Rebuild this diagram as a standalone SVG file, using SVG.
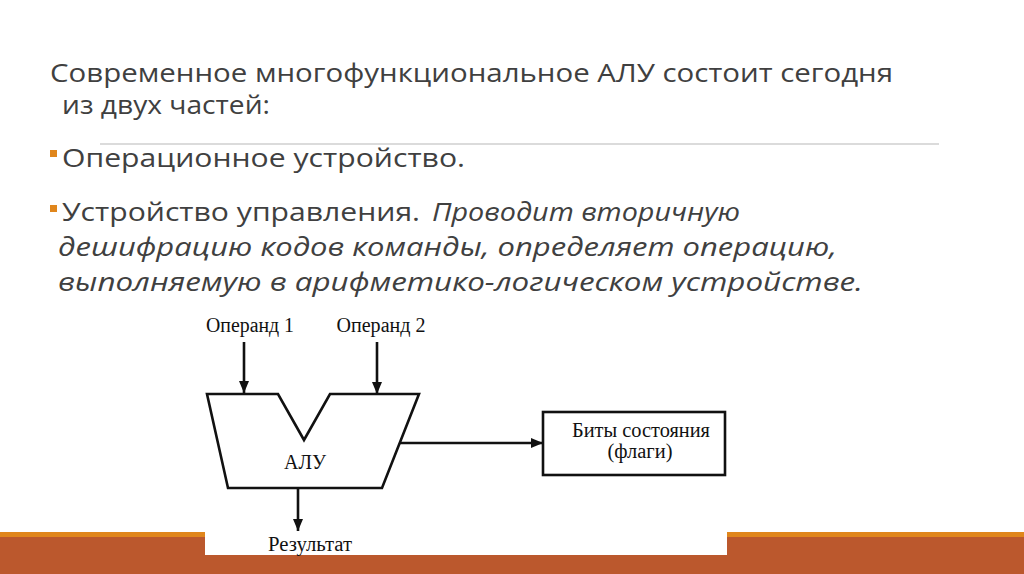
<svg xmlns="http://www.w3.org/2000/svg" width="1024" height="574" viewBox="0 0 1024 574">
  <style>
    .slide { font-family: "Open Sans", "Noto Sans", "DejaVu Sans", sans-serif; fill: #404040; font-size: 26px; }
    .it { font-style: italic; }
    .lbl { font-family: "Liberation Serif", "DejaVu Serif", serif; fill: #111; font-size: 20px; }
    .shape { fill: #fff; stroke: #111; stroke-width: 2.6; stroke-linejoin: miter; }
    .conn { stroke: #111; stroke-width: 2.6; fill: none; }
  </style>
  <defs>
    <marker id="arrow" viewBox="0 0 12 10" refX="12" refY="5" markerWidth="12" markerHeight="10" markerUnits="userSpaceOnUse" orient="auto">
      <path d="M0,0 L12,5 L0,10 Z" fill="#111"/>
    </marker>
  </defs>
  <rect x="0" y="0" width="1024" height="574" fill="#fff"/>

  <!-- slide text -->
  <g id="title">
    <text class="slide" x="50" y="82" textLength="843" lengthAdjust="spacingAndGlyphs">Современное многофункциональное АЛУ состоит сегодня</text>
    <text class="slide" x="62" y="114" textLength="208" lengthAdjust="spacingAndGlyphs">из двух частей:</text>
  </g>
  <line x1="100" y1="144" x2="939" y2="144" stroke="#cfcfcf" stroke-width="1.5"/>
  <g id="bullet1">
    <rect x="50" y="150" width="7" height="7" fill="#E0861C"/>
    <text class="slide" x="62" y="167" textLength="403" lengthAdjust="spacingAndGlyphs">Операционное устройство.</text>
  </g>
  <g id="bullet2">
    <rect x="50" y="205" width="7" height="7" fill="#E0861C"/>
    <text class="slide" x="62" y="221" textLength="358" lengthAdjust="spacingAndGlyphs">Устройство управления.</text>
    <text class="slide it" x="432" y="221" textLength="308" lengthAdjust="spacingAndGlyphs">Проводит вторичную</text>
    <text class="slide it" x="58" y="256" textLength="779" lengthAdjust="spacingAndGlyphs">дешифрацию кодов команды, определяет операцию,</text>
    <text class="slide it" x="58" y="291" textLength="805" lengthAdjust="spacingAndGlyphs">выполняемую в арифметико-логическом устройстве.</text>
  </g>

  <!-- bottom bars -->
  <rect x="0" y="532" width="1024" height="5" fill="#E0861C"/>
  <rect x="0" y="537" width="1024" height="37" fill="#BB582D"/>
  <rect x="205" y="300" width="522" height="255" fill="#fff"/>

  <!-- diagram -->
  <g id="connectors">
    <line class="conn" x1="244" y1="342" x2="244" y2="393" marker-end="url(#arrow)"/>
    <line class="conn" x1="377" y1="342" x2="377" y2="394" marker-end="url(#arrow)"/>
    <line class="conn" x1="400" y1="443" x2="543" y2="443" marker-end="url(#arrow)"/>
    <line class="conn" x1="298" y1="488" x2="298" y2="531" marker-end="url(#arrow)"/>
  </g>
  <g id="op1">
    <text class="lbl" x="250" y="332" text-anchor="middle" textLength="88" lengthAdjust="spacingAndGlyphs">Операнд 1</text>
  </g>
  <g id="op2">
    <text class="lbl" x="381" y="332" text-anchor="middle" textLength="89" lengthAdjust="spacingAndGlyphs">Операнд 2</text>
  </g>
  <g id="alu">
    <polygon class="shape" points="207,394 278,394 304,440 330,394 419,394 382,488 228,488"/>
    <text class="lbl" x="305" y="469" text-anchor="middle" textLength="42" lengthAdjust="spacingAndGlyphs">АЛУ</text>
  </g>
  <g id="flags">
    <rect class="shape" x="543" y="412" width="182" height="63"/>
    <text class="lbl" x="641" y="437" text-anchor="middle" textLength="138" lengthAdjust="spacingAndGlyphs">Биты состояния</text>
    <text class="lbl" x="640" y="458" text-anchor="middle" textLength="65" lengthAdjust="spacingAndGlyphs">(флаги)</text>
  </g>
  <g id="result">
    <text class="lbl" x="310" y="551" text-anchor="middle" textLength="84" lengthAdjust="spacingAndGlyphs">Результат</text>
  </g>
</svg>
